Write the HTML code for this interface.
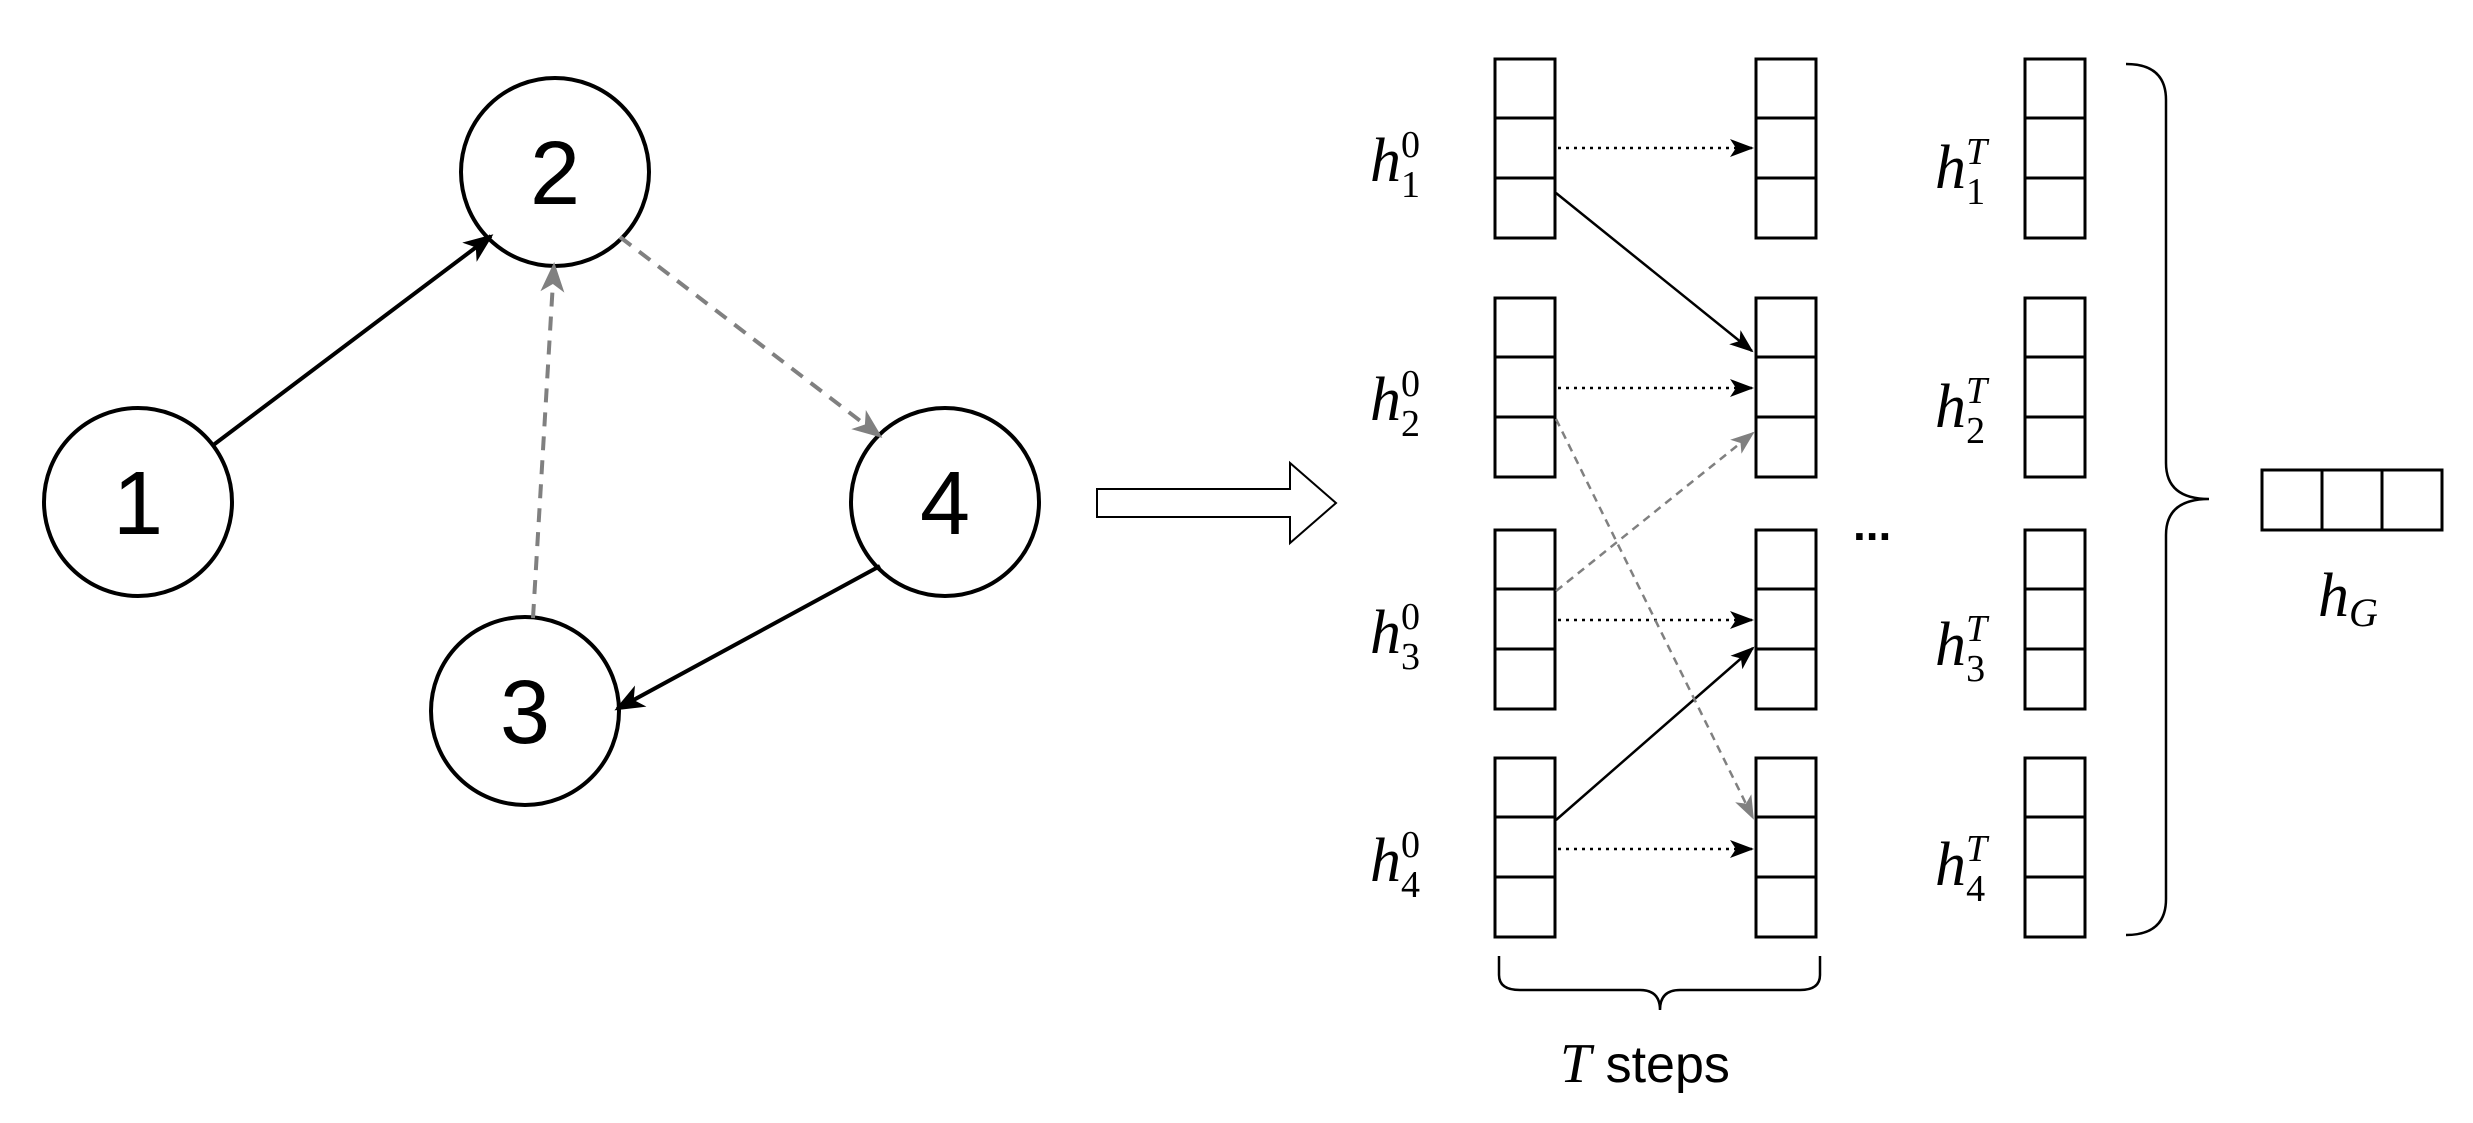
<!DOCTYPE html>
<html><head><meta charset="utf-8"><style>
html,body{margin:0;padding:0;background:#fff;}
svg{display:block;}
</style></head><body>
<svg width="2473" height="1123" viewBox="0 0 2473 1123" xmlns="http://www.w3.org/2000/svg">
<defs>
<marker id="abL" markerWidth="30" markerHeight="30" refX="27" refY="15" orient="auto" markerUnits="userSpaceOnUse" viewBox="0 0 30 30"><path d="M0,3 L30,15 L0,27 L8,15 z" fill="#000"/></marker>
<marker id="agL" markerWidth="30" markerHeight="30" refX="27" refY="15" orient="auto" markerUnits="userSpaceOnUse" viewBox="0 0 30 30"><path d="M0,3 L30,15 L0,27 L8,15 z" fill="#808080"/></marker>
<marker id="aS" markerWidth="24" markerHeight="22" refX="22" refY="11" orient="auto" markerUnits="userSpaceOnUse" viewBox="0 0 24 22"><path d="M0,2 L24,11 L0,20 L6,11 z" fill="#000"/></marker>
<marker id="aG" markerWidth="24" markerHeight="22" refX="22" refY="11" orient="auto" markerUnits="userSpaceOnUse" viewBox="0 0 24 22"><path d="M0,2 L24,11 L0,20 L6,11 z" fill="#808080"/></marker>
<g id="col">
<rect x="0" y="59" width="60" height="179"/><line x1="0" y1="118" x2="60" y2="118"/><line x1="0" y1="178" x2="60" y2="178"/>
<rect x="0" y="298" width="60" height="179"/><line x1="0" y1="357" x2="60" y2="357"/><line x1="0" y1="417" x2="60" y2="417"/>
<rect x="0" y="530" width="60" height="179"/><line x1="0" y1="589" x2="60" y2="589"/><line x1="0" y1="649" x2="60" y2="649"/>
<rect x="0" y="758" width="60" height="179"/><line x1="0" y1="817" x2="60" y2="817"/><line x1="0" y1="877" x2="60" y2="877"/>
</g>
</defs>
<g fill="#fff" stroke="#000" stroke-width="4">
<circle cx="138" cy="502" r="94"/>
<circle cx="555" cy="172" r="94"/>
<circle cx="945" cy="502" r="94"/>
<circle cx="525" cy="711" r="94"/>
</g>
<g font-family="Liberation Sans, sans-serif" font-size="90" text-anchor="middle">
<text x="138" y="534">1</text>
<text x="555" y="204">2</text>
<text x="945" y="534">4</text>
<text x="525" y="743">3</text>
</g>
<line x1="212" y1="446" x2="491" y2="236" stroke="#000" stroke-width="4" marker-end="url(#abL)"/>
<line x1="880" y1="566" x2="617" y2="709" stroke="#000" stroke-width="4" marker-end="url(#abL)"/>
<line x1="533" y1="618" x2="554" y2="265" stroke="#808080" stroke-width="4" stroke-dasharray="14,10" marker-end="url(#agL)"/>
<line x1="620" y1="237" x2="880" y2="436" stroke="#808080" stroke-width="4" stroke-dasharray="14,10" marker-end="url(#agL)"/>
<path d="M1097,489 L1290,489 L1290,463 L1336,503 L1290,543 L1290,517 L1097,517 Z" fill="#fff" stroke="#000" stroke-width="2"/>
<g fill="#fff" stroke="#000" stroke-width="3">
<use href="#col" x="1495"/>
<use href="#col" x="1756"/>
<use href="#col" x="2025"/>
<rect x="2262" y="470" width="180" height="60"/><line x1="2322" y1="470" x2="2322" y2="530"/><line x1="2382" y1="470" x2="2382" y2="530"/>
</g>
<g stroke="#000" stroke-width="2.5" stroke-dasharray="3,5">
<line x1="1558" y1="148" x2="1752" y2="148" marker-end="url(#aS)"/>
<line x1="1558" y1="388" x2="1752" y2="388" marker-end="url(#aS)"/>
<line x1="1558" y1="620" x2="1752" y2="620" marker-end="url(#aS)"/>
<line x1="1558" y1="849" x2="1752" y2="849" marker-end="url(#aS)"/>
</g>
<line x1="1556" y1="193" x2="1752" y2="351" stroke="#000" stroke-width="2.5" marker-end="url(#aS)"/>
<line x1="1556" y1="820" x2="1753" y2="648" stroke="#000" stroke-width="2.5" marker-end="url(#aS)"/>
<line x1="1556" y1="419" x2="1753" y2="818" stroke="#808080" stroke-width="2.5" stroke-dasharray="8,6" marker-end="url(#aG)"/>
<line x1="1556" y1="591" x2="1753" y2="433" stroke="#808080" stroke-width="2.5" stroke-dasharray="8,6" marker-end="url(#aG)"/>
<text x="1853" y="540" font-family="Liberation Sans, sans-serif" font-size="46" font-weight="bold">...</text>
<path d="M2126,64 Q2166,64 2166,100 L2166,463 Q2166,499 2209,499 Q2166,499 2166,535 L2166,899 Q2166,935 2126,935" fill="none" stroke="#000" stroke-width="2.5"/>
<path d="M1499,956 L1499,975 Q1499,990 1520,990 L1640,990 Q1660,990 1660,1010 Q1660,990 1680,990 L1800,990 Q1820,990 1820,975 L1820,956" fill="none" stroke="#000" stroke-width="2.5"/>
<g font-family="Liberation Serif, serif" font-style="italic" font-size="62">
<text x="1370" y="181">h<tspan font-style="normal" font-size="38" dy="-24">0</tspan><tspan font-style="normal" font-size="38" dx="-19" dy="40">1</tspan></text>
<text x="1370" y="420">h<tspan font-style="normal" font-size="38" dy="-24">0</tspan><tspan font-style="normal" font-size="38" dx="-19" dy="40">2</tspan></text>
<text x="1370" y="653">h<tspan font-style="normal" font-size="38" dy="-24">0</tspan><tspan font-style="normal" font-size="38" dx="-19" dy="40">3</tspan></text>
<text x="1370" y="881">h<tspan font-style="normal" font-size="38" dy="-24">0</tspan><tspan font-style="normal" font-size="38" dx="-19" dy="40">4</tspan></text>
<text x="1935" y="188">h<tspan font-size="38" dy="-24">T</tspan><tspan font-style="normal" font-size="38" dx="-21" dy="40">1</tspan></text>
<text x="1935" y="427">h<tspan font-size="38" dy="-24">T</tspan><tspan font-style="normal" font-size="38" dx="-21" dy="40">2</tspan></text>
<text x="1935" y="665">h<tspan font-size="38" dy="-24">T</tspan><tspan font-style="normal" font-size="38" dx="-21" dy="40">3</tspan></text>
<text x="1935" y="885">h<tspan font-size="38" dy="-24">T</tspan><tspan font-style="normal" font-size="38" dx="-21" dy="40">4</tspan></text>
<text x="2318" y="616">h<tspan font-size="40" dy="10">G</tspan></text>
<text x="1560" y="1082" font-size="56">T<tspan font-family="Liberation Sans, sans-serif" font-style="normal" font-size="52"> steps</tspan></text>
</g>
</svg>
</body></html>
